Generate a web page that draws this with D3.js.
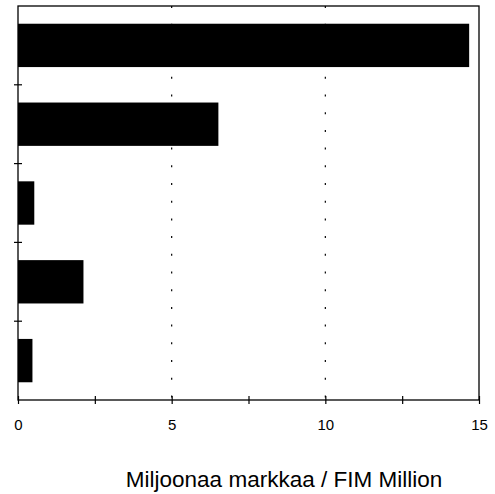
<!DOCTYPE html>
<html>
<head>
<meta charset="utf-8">
<script src="https://cdn.jsdelivr.net/npm/d3@7"></script>
<style>
  html, body { margin: 0; padding: 0; background: #fff; }
  svg { display: block; }
</style>
</head>
<body>
<svg id="chart" width="495" height="494"></svg>
<script>
const categories = ["1", "2", "3", "4", "5"];
const values = [14.68, 6.52, 0.53, 2.13, 0.47];
const majorTicks = [0, 5, 10, 15];
const minorTicks = [2.5, 7.5, 12.5];
const gridTicks = [5, 10];
const axisTitle = "Miljoonaa markkaa / FIM Million";

(function () {
const svg = d3.select("#chart");
const mLeft = 18, mRight = 479, mTop = 6, mBottom = 400;

const x = d3.scaleLinear().domain([0, 15]).range([mLeft, mRight]);
const y = d3.scaleBand().domain(categories).range([mTop, mBottom])
  .paddingInner(0.45).paddingOuter(0.225);

// gridlines
svg.append("g").selectAll("line").data(gridTicks).join("line")
  .attr("x1", d => x(d)).attr("x2", d => x(d))
  .attr("y1", mTop).attr("y2", mBottom)
  .attr("stroke", "#000").attr("stroke-width", 1.2)
  .attr("stroke-dasharray", "2,15.7");

// bars
svg.append("g").selectAll("rect").data(values).join("rect")
  .attr("x", x(0))
  .attr("y", (d, i) => y(categories[i]))
  .attr("width", d => x(d) - x(0))
  .attr("height", y.bandwidth())
  .attr("fill", "#000");

// frame
svg.append("rect").attr("x", mLeft).attr("y", mTop)
  .attr("width", mRight - mLeft).attr("height", mBottom - mTop)
  .attr("fill", "none").attr("stroke", "#000").attr("stroke-width", 1.3);

// x axis
const xAxis = d3.axisBottom(x).tickValues(majorTicks.concat(minorTicks))
  .tickSize(4).tickFormat(d => majorTicks.includes(d) ? d3.format("d")(d) : "");
const gx = svg.append("g").attr("transform", `translate(0,${mBottom})`).call(xAxis);
gx.select(".domain").remove();
gx.selectAll(".tick line").attr("y1", -4).attr("y2", 4).attr("stroke-width", 1.2);
gx.selectAll(".tick text").attr("y", 30).attr("dy", null)
  .attr("font-family", "Liberation Sans, Arial, sans-serif").attr("font-size", 15);

// y axis boundary ticks
const step = y.step();
const boundaries = categories.slice(1).map(c => y(c) - y.paddingInner() * step / 2);
svg.append("g").selectAll("line").data(boundaries).join("line")
  .attr("x1", mLeft - 4).attr("x2", mLeft + 4)
  .attr("y1", d => d).attr("y2", d => d)
  .attr("stroke", "#000").attr("stroke-width", 1.2);

// axis title
svg.append("text").attr("x", (125 + 443) / 2).attr("y", 487)
  .attr("text-anchor", "middle")
  .attr("font-family", "Liberation Sans, Arial, sans-serif").attr("font-size", 22.5)
  .text(axisTitle);
})();
</script>
</body>
</html>
